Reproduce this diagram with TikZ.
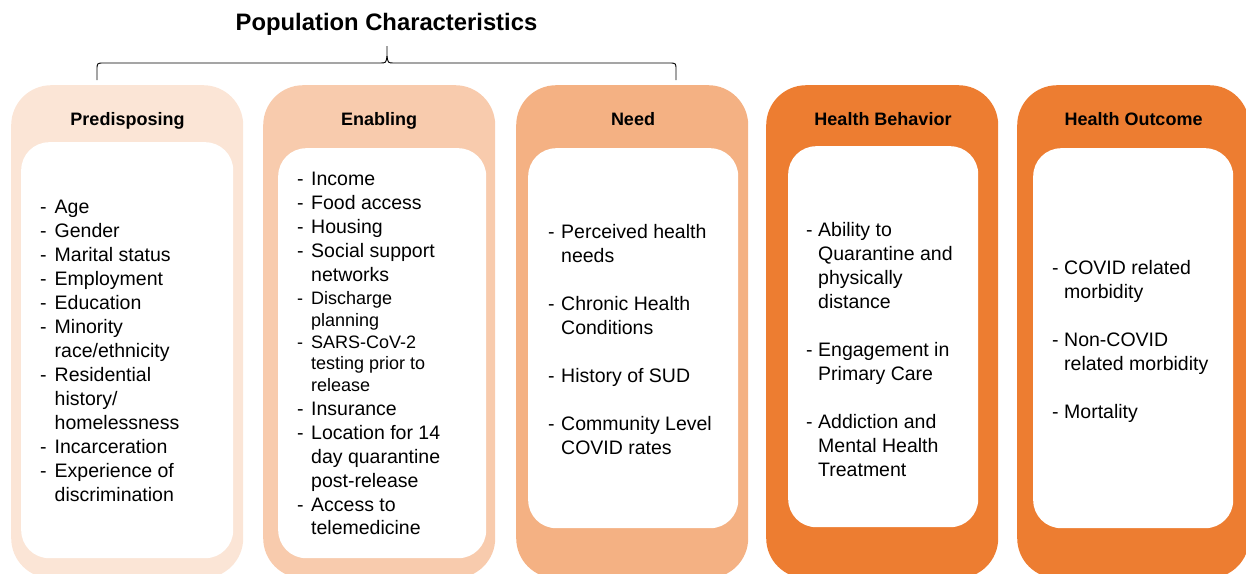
\documentclass[tikz,border=0pt]{standalone}
\usepackage{fontspec}
\setmainfont{Liberation Sans}
\definecolor{cPre}{HTML}{FBE5D6}
\definecolor{cEna}{HTML}{F8CBAD}
\definecolor{cNeed}{HTML}{F4B183}
\definecolor{cOut}{HTML}{ED7D31}
\newcommand\dsh[1]{\makebox[#1][l]{-}}
\newcommand\cnt[1]{\hspace*{#1}}
\begin{document}
\begin{tikzpicture}[x=1pt,y=-1pt,
  colbox/.style={fill=#1, draw=none, rounded corners=40pt, anchor=north west, inner sep=0pt, minimum width=232pt, minimum height=493pt},
  innerbox/.style={fill=white, draw=none, rounded corners=28pt, anchor=north west, inner sep=0pt},
  coltitle/.style={font=\bfseries\fontsize{18}{22}\selectfont, anchor=base, inner sep=0pt},
  items/.style={font=\fontsize{19.5}{24}\selectfont, anchor=base west, inner sep=0pt},
  bigtitle/.style={font=\bfseries\fontsize{23.8}{28}\selectfont, anchor=base, inner sep=0pt},
  brace/.style={draw=black, line width=0.9pt}
]
\useasboundingbox (0,0) rectangle (1246,573);

% title and brace
\node[bigtitle] (title) at (386.5,30) {Population Characteristics};
\coordinate (bl) at (97,80);
\coordinate (br) at (676,80);
\coordinate (bt) at (387,46);
\draw[brace] (bl) -- (97,70) .. controls (97,63) .. (104,63) -- (380,63) .. controls (386,63) .. (387,56) -- (bt);
\draw[brace] (br) -- (676,70) .. controls (676,63) .. (669,63) -- (394,63) .. controls (388,63) .. (387,56);

% outer columns
\node[colbox=cPre] (pre) at (11,85) {};
\node[colbox=cEna] (ena) at (263,85) {};
\node[colbox=cNeed] (need) at (516,85) {};
\node[colbox=cOut] (beh) at (766,85) {};
\node[colbox=cOut] (out) at (1017,85) {};

% inner boxes
\node[innerbox, minimum width=212pt, minimum height=416pt] (preIn) at (21,142) {};
\node[innerbox, minimum width=208pt, minimum height=410pt] (enaIn) at (278,148) {};
\node[innerbox, minimum width=210pt, minimum height=380pt] (needIn) at (528,148) {};
\node[innerbox, minimum width=190pt, minimum height=381pt] (behIn) at (788,146) {};
\node[innerbox, minimum width=200pt, minimum height=380pt] (outIn) at (1033,148) {};

% column titles
\node[coltitle] (preT) at (127.5,125.5) {Predisposing};
\node[coltitle] (enaT) at (379,125.5) {Enabling};
\node[coltitle] (needT) at (633,125.5) {Need};
\node[coltitle] (behT) at (883,125.5) {Health Behavior};
\node[coltitle] (outT) at (1133.5,125.5) {Health Outcome};

% items
\node[items] (preL) at (40,213) {\begin{tabular}[t]{@{}l@{}}
\dsh{14.5pt}Age\\
\dsh{14.5pt}Gender\\
\dsh{14.5pt}Marital status\\
\dsh{14.5pt}Employment\\
\dsh{14.5pt}Education\\
\dsh{14.5pt}Minority\\
\cnt{14.5pt}race/ethnicity\\
\dsh{14.5pt}Residential\\
\cnt{14.5pt}history/\\
\cnt{14.5pt}homelessness\\
\dsh{14.5pt}Incarceration\\
\dsh{14.5pt}Experience of\\
\cnt{14.5pt}discrimination
\end{tabular}};

\node[items] (enaL) at (297,185) {\begin{tabular}[t]{@{}l@{}}
\dsh{14pt}Income\\
\dsh{14pt}Food access\\
\dsh{14pt}Housing\\
\dsh{14pt}Social support\\
\cnt{14pt}networks\\[-1pt]
{\fontsize{18}{22}\selectfont\dsh{14pt}Discharge}\\[-2pt]
{\fontsize{18}{22}\selectfont\cnt{14pt}planning}\\[-2pt]
{\fontsize{18}{22}\selectfont\dsh{14pt}SARS-CoV-2}\\[-3pt]
{\fontsize{18}{22}\selectfont\cnt{14pt}testing prior to}\\[-2pt]
{\fontsize{18}{22}\selectfont\cnt{14pt}release}\\
\dsh{14pt}Insurance\\
\dsh{14pt}Location for 14\\
\cnt{14pt}day quarantine\\
\cnt{14pt}post-release\\
\dsh{14pt}Access to\\[-1pt]
\cnt{14pt}telemedicine
\end{tabular}};

\node[items] (needL) at (548,238) {\begin{tabular}[t]{@{}l@{}}
\dsh{13pt}Perceived health\\
\cnt{13pt}needs\\
\\
\dsh{13pt}Chronic Health\\
\cnt{13pt}Conditions\\
\\
\dsh{13pt}History of SUD\\
\\
\dsh{13pt}Community Level\\
\cnt{13pt}COVID rates
\end{tabular}};

\node[items] (behL) at (806,236) {\begin{tabular}[t]{@{}l@{}}
\dsh{12pt}Ability to\\
\cnt{12pt}Quarantine and\\
\cnt{12pt}physically\\
\cnt{12pt}distance\\
\\
\dsh{12pt}Engagement in\\
\cnt{12pt}Primary Care\\
\\
\dsh{12pt}Addiction and\\
\cnt{12pt}Mental Health\\
\cnt{12pt}Treatment
\end{tabular}};

\node[items] (outL) at (1052,274) {\begin{tabular}[t]{@{}l@{}}
\dsh{12pt}COVID related\\
\cnt{12pt}morbidity\\
\\
\dsh{12pt}Non-COVID\\
\cnt{12pt}related morbidity\\
\\
\dsh{12pt}Mortality
\end{tabular}};
\end{tikzpicture}
\end{document}
